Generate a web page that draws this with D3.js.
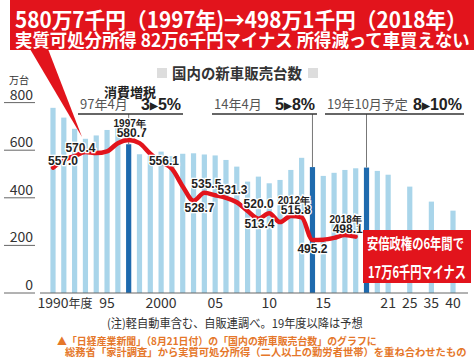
<!DOCTYPE html>
<html>
<head>
<meta charset="utf-8">
<script src="https://cdn.jsdelivr.net/npm/d3@7"></script>
<style>
  body { margin: 0; background: #fff; }
  svg { display: block; font-family: "Noto Sans CJK JP", "Noto Sans", sans-serif; }
</style>
</head>
<body>
<div id="chart"></div>
<script>
// new car sales (万台), fiscal years, 19年度以降は予想
const years = ['1990', '1991', '1992', '1993', '1994', '1995', '1996', '1997', '1998', '1999',
    '2000', '2001', '2002', '2003', '2004', '2005', '2006', '2007', '2008', '2009',
    '2010', '2011', '2012', '2013', '2014', '2015', '2016', '2017', '2018', '2019',
    '2020', '2021', '2025', '2035', '2040']
const sales = [778, 737, 690, 648, 662, 685, 705, 625, 583, 577,
    594, 575, 585, 587, 582, 578, 559, 531, 468, 489,
    461, 475, 517, 568, 529, 492, 505, 517, 524, 527,
    513, 497, 447, 384, 346]

// real disposable income (万円), 1990-2018
const incomeYears = years.slice(0, 29)
const income = [557.0, 563.5, 567.0, 570.4, 569.5, 571.0, 578.0, 580.7, 578.0, 569.0,
    562.0, 556.1, 541.0, 528.7, 535.5, 533.5, 531.3, 527.5, 520.0, 513.4,
    518.0, 510.5, 515.8, 514.5, 495.2, 495.5, 497.0, 499.5, 498.1]

const labelYears = ['1990', '1993', '1997', '2001', '2003', '2004', '2006', '2008', '2009', '2012', '2014', '2018']
const labelOffsets = [[10, -3], [-5, 0], [3, -3.5], [-8, -4], [6, 11.5], [2, -4.5], [6.5, -4], [11, -2.5], [1, 9], [5, -1.5], [0, 13], [-8, -3.5]]
const yearTagged = ['1997', '2012', '2018']

const taxYears = ['1997', '2014', '2019']
const taxWhen = ['97年4月', '14年4月', '19年10月予定']
const taxRate = ['3▶5%', '5▶8%', '8▶10%']

const yTicks = [0, 200, 400, 600, 800]
const xTickYears = ['1990', '1995', '2000', '2005', '2010', '2015', '2021', '2025', '2035', '2040']
const xTickLabels = ['1990', '95', '2000', '05', '10', '15', '21', '25', '35', '40']

const red = '#e2141c'
const light = '#a9d5ea'
const dark = '#1e6aae'
const ink = '#333'
const orange = '#e5772a'

// slots: skipped years leave a blank slot between the forecasts
var slots = years.slice(0, 32).concat(['g1', '2025', 'g2', '2035', 'g3', '2040'])

const svg = d3.select('#chart').append('svg').attr('width', 474).attr('height', 358)

const x = d3.scalePoint().domain(slots).range([53, 453])
const y = d3.scaleLinear().domain([0, 800]).range([293, 102.6])
const yInc = d3.scaleLinear().domain([495.2, 580.7]).range([240, 140])

// squeeze a text horizontally so it spans w pixels
function fitText(tx, ty, w, size, weight, fill, str) {
    let g = svg.append('g')
    let t = g.append('text').attr('x', 0).attr('y', 0)
        .attr('font-size', size).attr('font-weight', weight).attr('fill', fill)
        .text(str)
    let k = w / t.node().getComputedTextLength()
    g.attr('transform', 'translate(' + tx + ',' + ty + ') scale(' + k + ',1)')
    return t
}

// bars
svg.append('g')
    .selectAll('rect')
    .data(years)
    .join('rect')
    .attr('x', (d) => x(d) - 2.6)
    .attr('width', 5.2)
    .attr('y', (d, i) => y(sales[i]))
    .attr('height', (d, i) => y(0) - y(sales[i]))
    .attr('fill', (d) => (taxYears.includes(d) ? dark : light))

svg.append('line')
    .attr('x1', 40).attr('x2', 468)
    .attr('y1', y(0)).attr('y2', y(0))
    .attr('stroke', '#666').attr('stroke-width', 1)

// y ticks with short underline
const yt = svg.append('g').selectAll('g').data(yTicks).join('g')
yt.append('line')
    .attr('x1', 4).attr('x2', 35)
    .attr('y1', (d) => y(d)).attr('y2', (d) => y(d))
    .attr('stroke', '#666')
yt.append('text')
    .attr('x', 33).attr('y', (d) => y(d) - 3)
    .attr('text-anchor', 'end')
    .attr('font-size', 14).attr('fill', ink)
    .text((d) => d)
svg.append('text').attr('x', 9).attr('y', 84).attr('font-size', 10).attr('fill', ink).text('万台')

// x tick labels
const xt = svg.append('g')
xt.selectAll('text').data(xTickYears).join('text')
    .attr('x', (d) => x(d)).attr('y', 308)
    .attr('text-anchor', 'middle')
    .attr('font-size', 14).attr('fill', ink)
    .text((d, i) => xTickLabels[i])
var firstW = xt.select('text').node().getComputedTextLength()
svg.append('text')
    .attr('x', x(xTickYears[0]) + firstW / 2).attr('y', 308)
    .attr('font-size', 12).attr('fill', ink)
    .text('年度')

// legend title
svg.append('rect').attr('x', 157).attr('y', 68).attr('width', 10).attr('height', 10).attr('fill', '#ddd')
svg.append('rect').attr('x', 308).attr('y', 68).attr('width', 10).attr('height', 10).attr('fill', '#ddd')
fitText(172, 79, 130, 15, 'bold', ink, '国内の新車販売台数')

// consumption tax markers
const spans = [[78, 183], [212, 317], [325, 464]]
svg.append('text').attr('x', 130).attr('y', 97).attr('text-anchor', 'middle')
    .attr('font-size', 13).attr('font-weight', 'bold').attr('fill', '#222').text('消費増税')
taxYears.forEach(function (yr, i) {
    let s = spans[i]
    svg.append('line').attr('x1', x(yr)).attr('x2', x(yr))
        .attr('y1', 114).attr('y2', y(sales[years.indexOf(yr)]))
        .attr('stroke', '#777').attr('stroke-width', 1)
    svg.append('line').attr('x1', s[0]).attr('x2', s[1]).attr('y1', 114).attr('y2', 114)
        .attr('stroke', '#333').attr('stroke-width', 1.5)
    svg.append('text').attr('x', s[0] + 2).attr('y', 109)
        .attr('font-size', 13).attr('fill', '#555').text(taxWhen[i])
    let parts = taxRate[i].split('▶')
    let t = svg.append('text').attr('x', s[1] - 2).attr('y', 110).attr('text-anchor', 'end')
        .attr('font-family', 'Liberation Sans, Arial, sans-serif')
        .attr('font-size', 16).attr('font-weight', 'bold').attr('fill', '#222')
    t.append('tspan').text(parts[0])
    t.append('tspan').attr('font-size', 10).attr('dy', -1).text('▶')
    t.append('tspan').attr('dy', 1).text(parts[1])
})

// income line
const line = d3.line()
    .x((d, i) => x(incomeYears[i]))
    .y((d) => yInc(d))
    .curve(d3.curveMonotoneX)
svg.append('path')
    .datum(income)
    .attr('d', line)
    .attr('fill', 'none')
    .attr('stroke', red)
    .attr('stroke-width', 4.5)
    .attr('stroke-linecap', 'round')

const lab = svg.append('g')
    .attr('font-family', 'Liberation Sans, Arial, sans-serif')
    .attr('font-weight', 'bold')
    .attr('fill', '#222')
    .attr('stroke', '#fff')
    .attr('stroke-width', 2.5)
    .attr('paint-order', 'stroke')
    .attr('text-anchor', 'middle')
labelYears.forEach(function (yr, i) {
    let v = income[incomeYears.indexOf(yr)]
    let px = x(yr) + labelOffsets[i][0]
    let py = yInc(v) + labelOffsets[i][1]
    lab.append('text').attr('x', px).attr('y', py).attr('font-size', 12).text(v.toFixed(1))
    if (yearTagged.includes(yr)) {
        lab.append('text').attr('x', px - 2).attr('y', py - 10).attr('font-size', 10).text(yr + '年')
    }
})

// callout box
svg.append('rect').attr('x', 363).attr('y', 230).attr('width', 108).attr('height', 53).attr('fill', red)
fitText(367, 249, 97, 15, 'bold', '#fff', '安倍政権の6年間で')
fitText(368, 278, 98, 16, 'bold', '#fff', '17万6千円マイナス')

// headline
svg.append('rect').attr('x', 10).attr('y', 0).attr('width', 464).attr('height', 50).attr('fill', red)
svg.append('path').attr('d', 'M30,49 L48,49 L82,137 Z').attr('fill', red)
fitText(15, 28, 452, 22, 'bold', '#fff', '580万7千円（1997年)→498万1千円（2018年）')
fitText(15, 47, 455, 18, 'bold', '#fff', '実質可処分所得 82万6千円マイナス 所得減って車買えない')

// notes
fitText(107, 328, 256, 12, 'normal', ink, '(注)軽自動車含む、自販連調べ。19年度以降は予想')
fitText(57, 344.5, 320, 10.5, 'bold', orange, '▲「日経産業新聞」（8月21日付）の「国内の新車販売台数」のグラフに')
fitText(65, 356, 402, 10.5, 'bold', orange, '総務省「家計調査」から実質可処分所得（二人以上の勤労者世帯）を重ね合わせたもの')
</script>
</body>
</html>
